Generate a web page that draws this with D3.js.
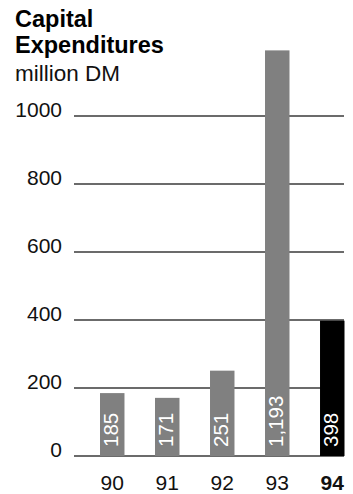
<!DOCTYPE html>
<html>
<head>
<meta charset="utf-8">
<script src="https://cdn.jsdelivr.net/npm/d3@7"></script>
<style>
	body { margin: 0; background: #fff; }
	svg { display: block; font-family: 'Liberation Sans', Arial, Helvetica, sans-serif; }
</style>
</head>
<body>
<div id="chart"></div>
<script>
// data
const years = ['90', '91', '92', '93', '94'];
const values = [185, 171, 251, 1193, 398];
const valueLabels = ['185', '171', '251', '1,193', '398'];
const yTicks = [0, 200, 400, 600, 800, 1000];
const titleLines = ['Capital', 'Expenditures'];
const unitLabel = 'million DM';

const width = 353,
	height = 494;

const svg = d3
	.select('#chart')
	.append('svg')
	.attr('width', width)
	.attr('height', height);

const x = d3
	.scaleBand()
	.domain(years)
	.range([100, 344.5])
	.paddingInner(0.555)
	.paddingOuter(0);

const y = d3.scaleLinear().domain([0, 1000]).range([456, 116]);

// title
svg
	.selectAll('.title')
	.data(titleLines)
	.join('text')
	.attr('class', 'title')
	.attr('x', 15)
	.attr('y', (d, i) => 26.5 + i * 26.3)
	.attr('font-size', '23.5px')
	.attr('font-weight', 'bold')
	.attr('fill', '#000')
	.text((d) => d);

svg
	.append('text')
	.attr('x', 15)
	.attr('y', 80.5)
	.attr('font-size', '22.5px')
	.attr('fill', '#111')
	.text(unitLabel);

// gridlines
svg
	.selectAll('.grid')
	.data(yTicks)
	.join('line')
	.attr('class', 'grid')
	.attr('x1', 74)
	.attr('x2', 344)
	.attr('y1', (d) => y(d))
	.attr('y2', (d) => y(d))
	.attr('stroke', '#3a3a3a')
	.attr('stroke-width', 1.4);

// y labels
svg
	.selectAll('.ylab')
	.data(yTicks)
	.join('text')
	.attr('class', 'ylab')
	.attr('x', 62)
	.attr('y', (d) => y(d) + 1)
	.attr('text-anchor', 'end')
	.attr('font-size', '21px')
	.attr('fill', '#111')
	.text((d) => d);

// bars
svg
	.selectAll('.bar')
	.data(values)
	.join('rect')
	.attr('class', 'bar')
	.attr('x', (d, i) => x(years[i]))
	.attr('width', x.bandwidth())
	.attr('y', (d) => y(d))
	.attr('height', (d) => y(0) - y(d))
	.attr('fill', (d, i) => (i === years.length - 1 ? '#000' : '#808080'));

// values inside bars
svg
	.selectAll('.val')
	.data(valueLabels)
	.join('text')
	.attr('class', 'val')
	.attr('transform', (d, i) => {
		const cx = x(years[i]) + x.bandwidth() / 2 + 6;
		return `translate(${cx},${y(0) - 9}) rotate(-90)`;
	})
	.attr('font-size', '20.5px')
	.attr('fill', '#fff')
	.text((d) => d);

// x labels
svg
	.selectAll('.xlab')
	.data(years)
	.join('text')
	.attr('class', 'xlab')
	.attr('x', (d) => x(d) + x.bandwidth() / 2)
	.attr('y', 490)
	.attr('text-anchor', 'middle')
	.attr('font-size', '21px')
	.attr('font-weight', (d, i) => (i === years.length - 1 ? 'bold' : 'normal'))
	.attr('fill', '#111')
	.text((d) => d);
</script>
</body>
</html>
